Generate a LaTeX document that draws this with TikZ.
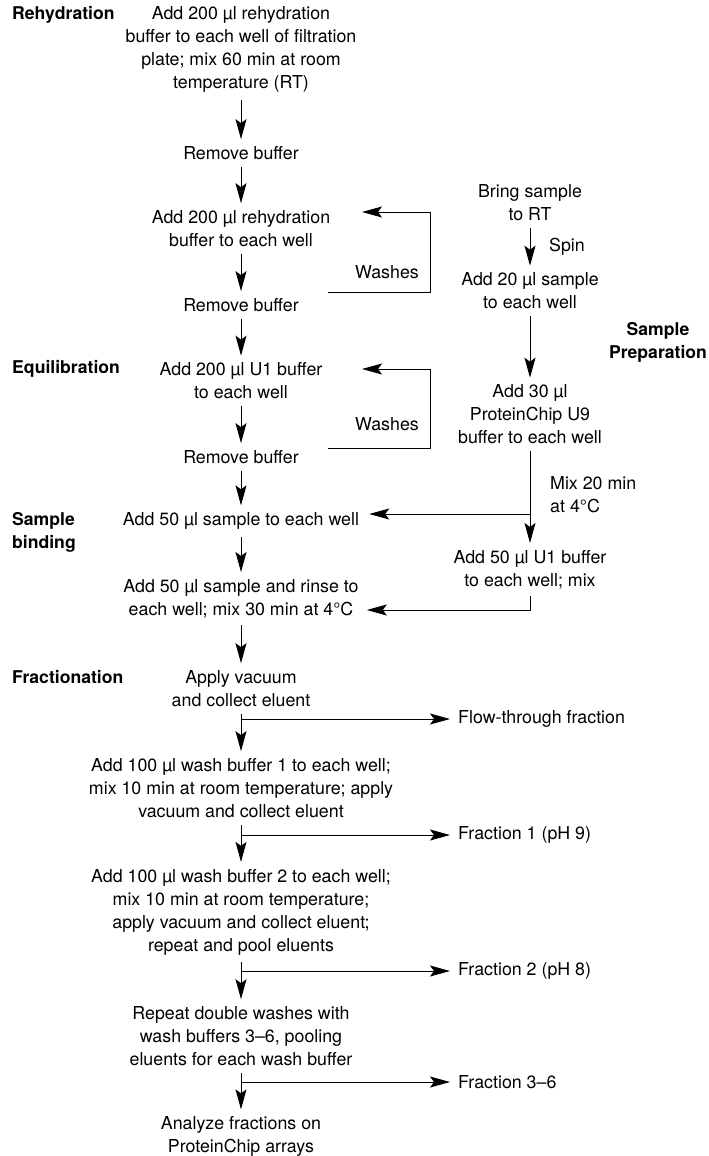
\documentclass[tikz,border=0pt]{standalone}
\usepackage{fontspec}
\setmainfont{TeX Gyre Heros}
\usetikzlibrary{arrows.meta}

\tikzset{
  stepbox/.style={align=center, inner xsep=0pt, inner ysep=7pt},
  phase/.style={font=\fontsize{17.6}{23}\selectfont\bfseries, align=left, inner sep=0pt, anchor=west},
  note/.style={align=left, inner sep=0pt},
  flow/.style={-{Stealth[length=20pt,width=11pt,inset=4pt]}, line width=1pt},
}

\begin{document}
\begin{tikzpicture}[x=1pt, y=-1pt, every node/.style={font=\fontsize{17.8}{23}\selectfont}]
% Fix the page
\useasboundingbox (0,0) rectangle (709,1156);

% Draw the phase labels
\node[phase] (pRehyd) at (12,15) {Rehydration};
\node[phase] (pEquil) at (12,369) {Equilibration};
\node[phase] (pBind) at (12,532.5) {Sample\\binding};
\node[phase] (pFrac) at (12,677) {Fractionation};
\node[phase, align=center, anchor=center] (pPrep) at (658,342.5) {Sample\\Preparation};

% Draw the main column
\node[stepbox] (L1) at (241,49.5) {Add 200 µl rehydration\\buffer to each well of filtration\\plate; mix 60 min at room\\temperature (RT)};
\node[stepbox] (L2) at (241,153) {Remove buffer};
\node[stepbox] (L3) at (241,228.5) {Add 200 µl rehydration\\buffer to each well};
\node[stepbox] (L4) at (241,305) {Remove buffer};
\node[stepbox] (L5) at (241,381) {Add 200 µl U1 buffer\\to each well};
\node[stepbox] (L6) at (241,457) {Remove buffer};
\node[stepbox] (L7) at (241,521) {Add 50 µl sample to each well};
\node[stepbox] (L8) at (241,598.5) {Add 50 µl sample and rinse to\\each well; mix 30 min at 4°C};
\node[stepbox] (L9) at (241,688.5) {Apply vacuum\\and collect eluent};
\node[stepbox] (L10) at (241,788) {Add 100 µl wash buffer 1 to each well;\\mix 10 min at room temperature; apply\\vacuum and collect eluent};
\node[stepbox] (L11) at (241,912) {Add 100 µl wash buffer 2 to each well;\\mix 10 min at room temperature;\\apply vacuum and collect eluent;\\repeat and pool eluents};
\node[stepbox] (L12) at (241,1036) {Repeat double washes with\\wash buffers 3–6, pooling\\eluents for each wash buffer};
\node[stepbox] (L13) at (241,1136.5) {Analyze fractions on\\ProteinChip arrays};

% Draw the sample column
\node[stepbox] (R1) at (530,202.5) {Bring sample\\to RT};
\node[stepbox] (R2) at (530,291) {Add 20 µl sample\\to each well};
\node[stepbox] (R3) at (530,414.5) {Add 30 µl\\ProteinChip U9\\buffer to each well};
\node[stepbox] (R4) at (530,569.5) {Add 50 µl U1 buffer\\to each well; mix};

% Draw the side notes
\node[note, anchor=west] (spin) at (549,247) {Spin};
\node[note, anchor=west] (mix) at (550,495) {Mix 20 min\\at 4°C};
\node[note, anchor=east] (wash1) at (419,272) {Washes};
\node[note, anchor=east] (wash2) at (419,424) {Washes};

% Draw the fractions
\node[note, anchor=west] (F0) at (458,719) {Flow-through fraction};
\node[note, anchor=west] (F1) at (458,835) {Fraction 1 (pH 9)};
\node[note, anchor=west] (F2) at (458,971) {Fraction 2 (pH 8)};
\node[note, anchor=west] (F3) at (458,1082) {Fraction 3–6};

% Draw the arrows down the main column
\draw[flow] (L1) -- (L2);
\draw[flow] (L2) -- (L3);
\draw[flow] (L3) -- (L4);
\draw[flow] (L4) -- (L5);
\draw[flow] (L5) -- (L6);
\draw[flow] (L6) -- (L7);
\draw[flow] (L7) -- (L8);
\draw[flow] (L8) -- (L9);
\draw[flow] (L9) -- (L10);
\draw[flow] (L10) -- (L11);
\draw[flow] (L11) -- (L12);
\draw[flow] (L12) -- (L13);

% Draw the wash loops
\coordinate (loopA) at (328,292);
\coordinate (cornerA) at (430,212);
\coordinate (tipA) at (362,212);
\draw[flow] (loopA) -| (cornerA) -- (tipA);
\coordinate (loopB) at (328,448);
\coordinate (cornerB) at (430,369);
\coordinate (tipB) at (362,369);
\draw[flow] (loopB) -| (cornerB) -- (tipB);

% Draw the sample column arrows
\draw[flow] (R1) -- (R2);
\draw[flow] (R2) -- (R3);
\draw[flow] (R3) -- (R4);
\coordinate (mixA) at (530,514);
\coordinate (mixB) at (530,610);
\draw[flow, shorten >=10pt] (mixA) -- (mixA -| L7.east);
\draw[flow, shorten >=8pt] (R4.south) -- (mixB) -- (mixB -| L8.east);

% Draw the arrows to the fractions
\draw[flow, shorten >=8pt] (L9 |- F0) -- (F0);
\draw[flow, shorten >=8pt] (L10 |- F1) -- (F1);
\draw[flow, shorten >=8pt] (L11 |- F2) -- (F2);
\draw[flow, shorten >=8pt] (L12 |- F3) -- (F3);
\end{tikzpicture}
\end{document}
